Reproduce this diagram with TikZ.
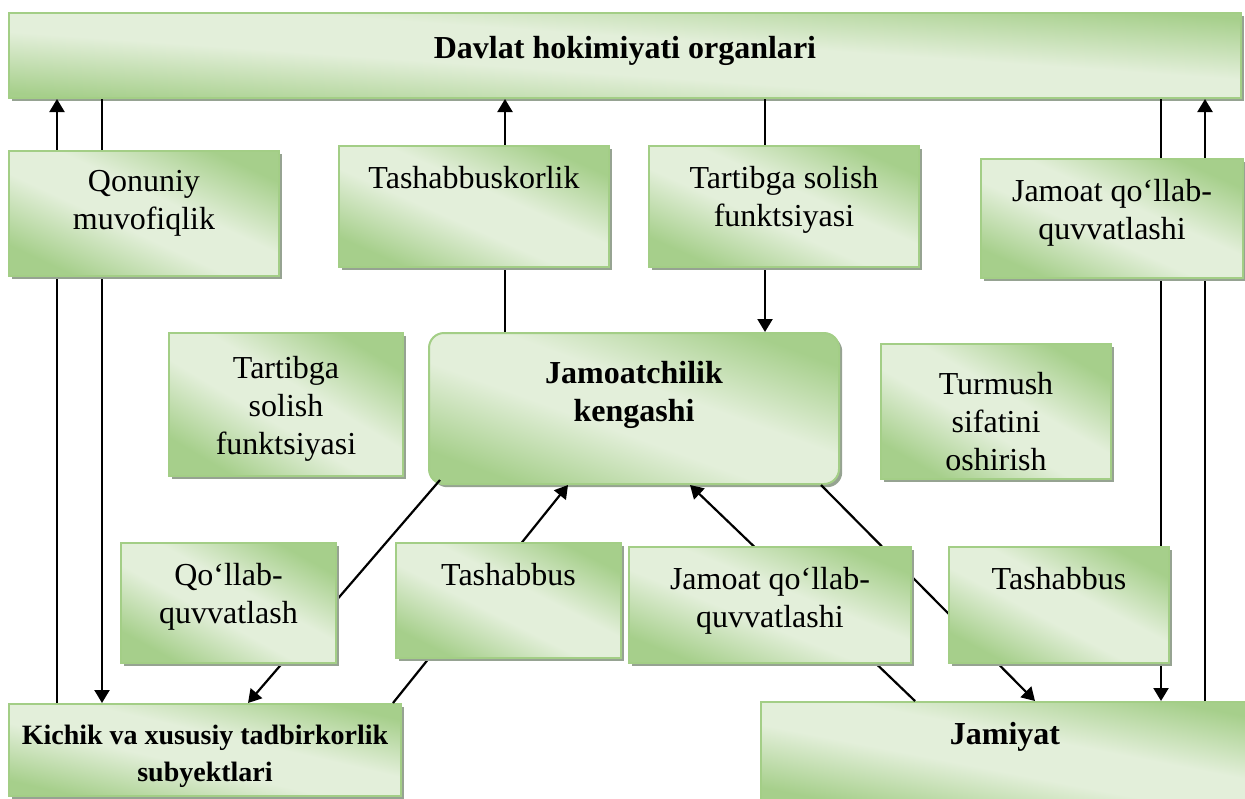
\documentclass[tikz,border=0pt]{standalone}
\usepackage{fontspec}
\setmainfont{Liberation Serif}
\usetikzlibrary{arrows.meta,shadows,positioning,calc}
\definecolor{gLight}{RGB}{227,239,218}
\definecolor{gDark}{RGB}{166,207,139}
\definecolor{gEdge}{RGB}{163,206,134}
\definecolor{gShadow}{RGB}{150,163,146}
\pgfdeclarehorizontalshading{boxshade}{100bp}{color(0bp)=(gDark); color(25bp)=(gDark);
  color(44bp)=(gLight); color(56bp)=(gLight); color(75bp)=(gDark); color(100bp)=(gDark)}
\newdimen\pxu \pxu=0.5pt
% text block of a box: [baseline of first line]{width}{height}{text}
\newcommand{\bx}[4][21pt]{\parbox[t][#3\pxu][t]{#2\pxu}{\centering\rule{0pt}{#1}#4}}
\tikzset{>={Triangle[length=6.5pt,width=7.5pt]},
  box/.style={draw=gEdge, line width=1pt, shade, shading=boxshade, shading angle=#1,
    drop shadow={shadow xshift=1.6pt,shadow yshift=-1.6pt,fill=gShadow,opacity=1},
    inner sep=0pt, anchor=north west, font=\fontsize{16}{19}\selectfont},
  box/.default=65,
  link/.style={line width=1.1pt}}

\begin{document}
\begin{tikzpicture}[x=0.5pt, y=-0.5pt]
    \useasboundingbox (0,0) rectangle (1245,798);
    % main blocks
    \node[box=86] (top) at (8,12) {\bx[22.5pt]{1232}{85}{\bfseries Davlat hokimiyati organlari}};
    \node[box=70, rounded corners=7.5pt] (keng) at (428,332) {\bx[25pt]{410}{151}{\bfseries Jamoatchilik\\ kengashi}};
    \node[box=77] (kich) at (8,703) {\bx[20pt]{392}{92}{\fontsize{14}{18.5}\selectfont\bfseries Kichik va xususiy tadbirkorlik\\ subyektlari}};
    \node[box=79] (jam) at (760,701) {\bx{488}{100}{\bfseries Jamiyat}};

    % links
    \draw[link,->] (kich.north -| 57,0) -- (top.south -| 57,0);
    \draw[link,->] (top.south -| 102,0) -- (kich.north -| 102,0);
    \draw[link,->] (keng.north -| 505,0) -- (top.south -| 505,0);
    \draw[link,->] (top.south -| 765,0) -- (keng.north -| 765,0);
    \draw[link,->] (top.south -| 1161,0) -- (jam.north -| 1161,0);
    \draw[link,->] (jam.north -| 1205,0) -- (top.south -| 1205,0);
    \draw[link,->] ([shift={(12,-5)}]keng.south west) -- (kich.north -| 248,0);
    \draw[link,->] (kich.north -| 393,0) -- (keng.south -| 568,0);
    \draw[link,->] (jam.north -| 915,0) -- (keng.south -| 690,0);
    \draw[link,->] (keng.south -| 821,0) -- (jam.north -| 1035,0);

    % function boxes (over the links)
    \node[box=65] (qon) at (8,150) {\bx[20pt]{270}{125}{Qonuniy\\ muvofiqlik}};
    \node[box=66] (tashk) at (338,145) {\bx{270}{121}{Tashabbuskorlik}};
    \node[box=66] (tartA) at (648,145) {\bx{270}{121}{Tartibga solish\\ funktsiyasi}};
    \node[box=66] (jamqA) at (980,158) {\bx{262}{119}{Jamoat qo‘llab-\\ quvvatlashi}};
    \node[box=59] (tartB) at (168,332) {\bx[22.5pt]{234}{143}{Tartibga\\ solish\\ funktsiyasi}};
    \node[box=60] (turm) at (880,343) {\bx[25pt]{230}{135}{Turmush\\ sifatini\\ oshirish}};
    \node[box=61] (qol) at (120,542) {\bx{215}{120}{Qo‘llab-\\ quvvatlash}};
    \node[box=63] (tashA) at (395,542) {\bx{225}{115}{Tashabbus}};
    \node[box=68] (jamqB) at (628,546) {\bx{282}{116}{Jamoat qo‘llab-\\ quvvatlashi}};
    \node[box=62] (tashB) at (948,546) {\bx{220}{116}{Tashabbus}};
\end{tikzpicture}
\end{document}
